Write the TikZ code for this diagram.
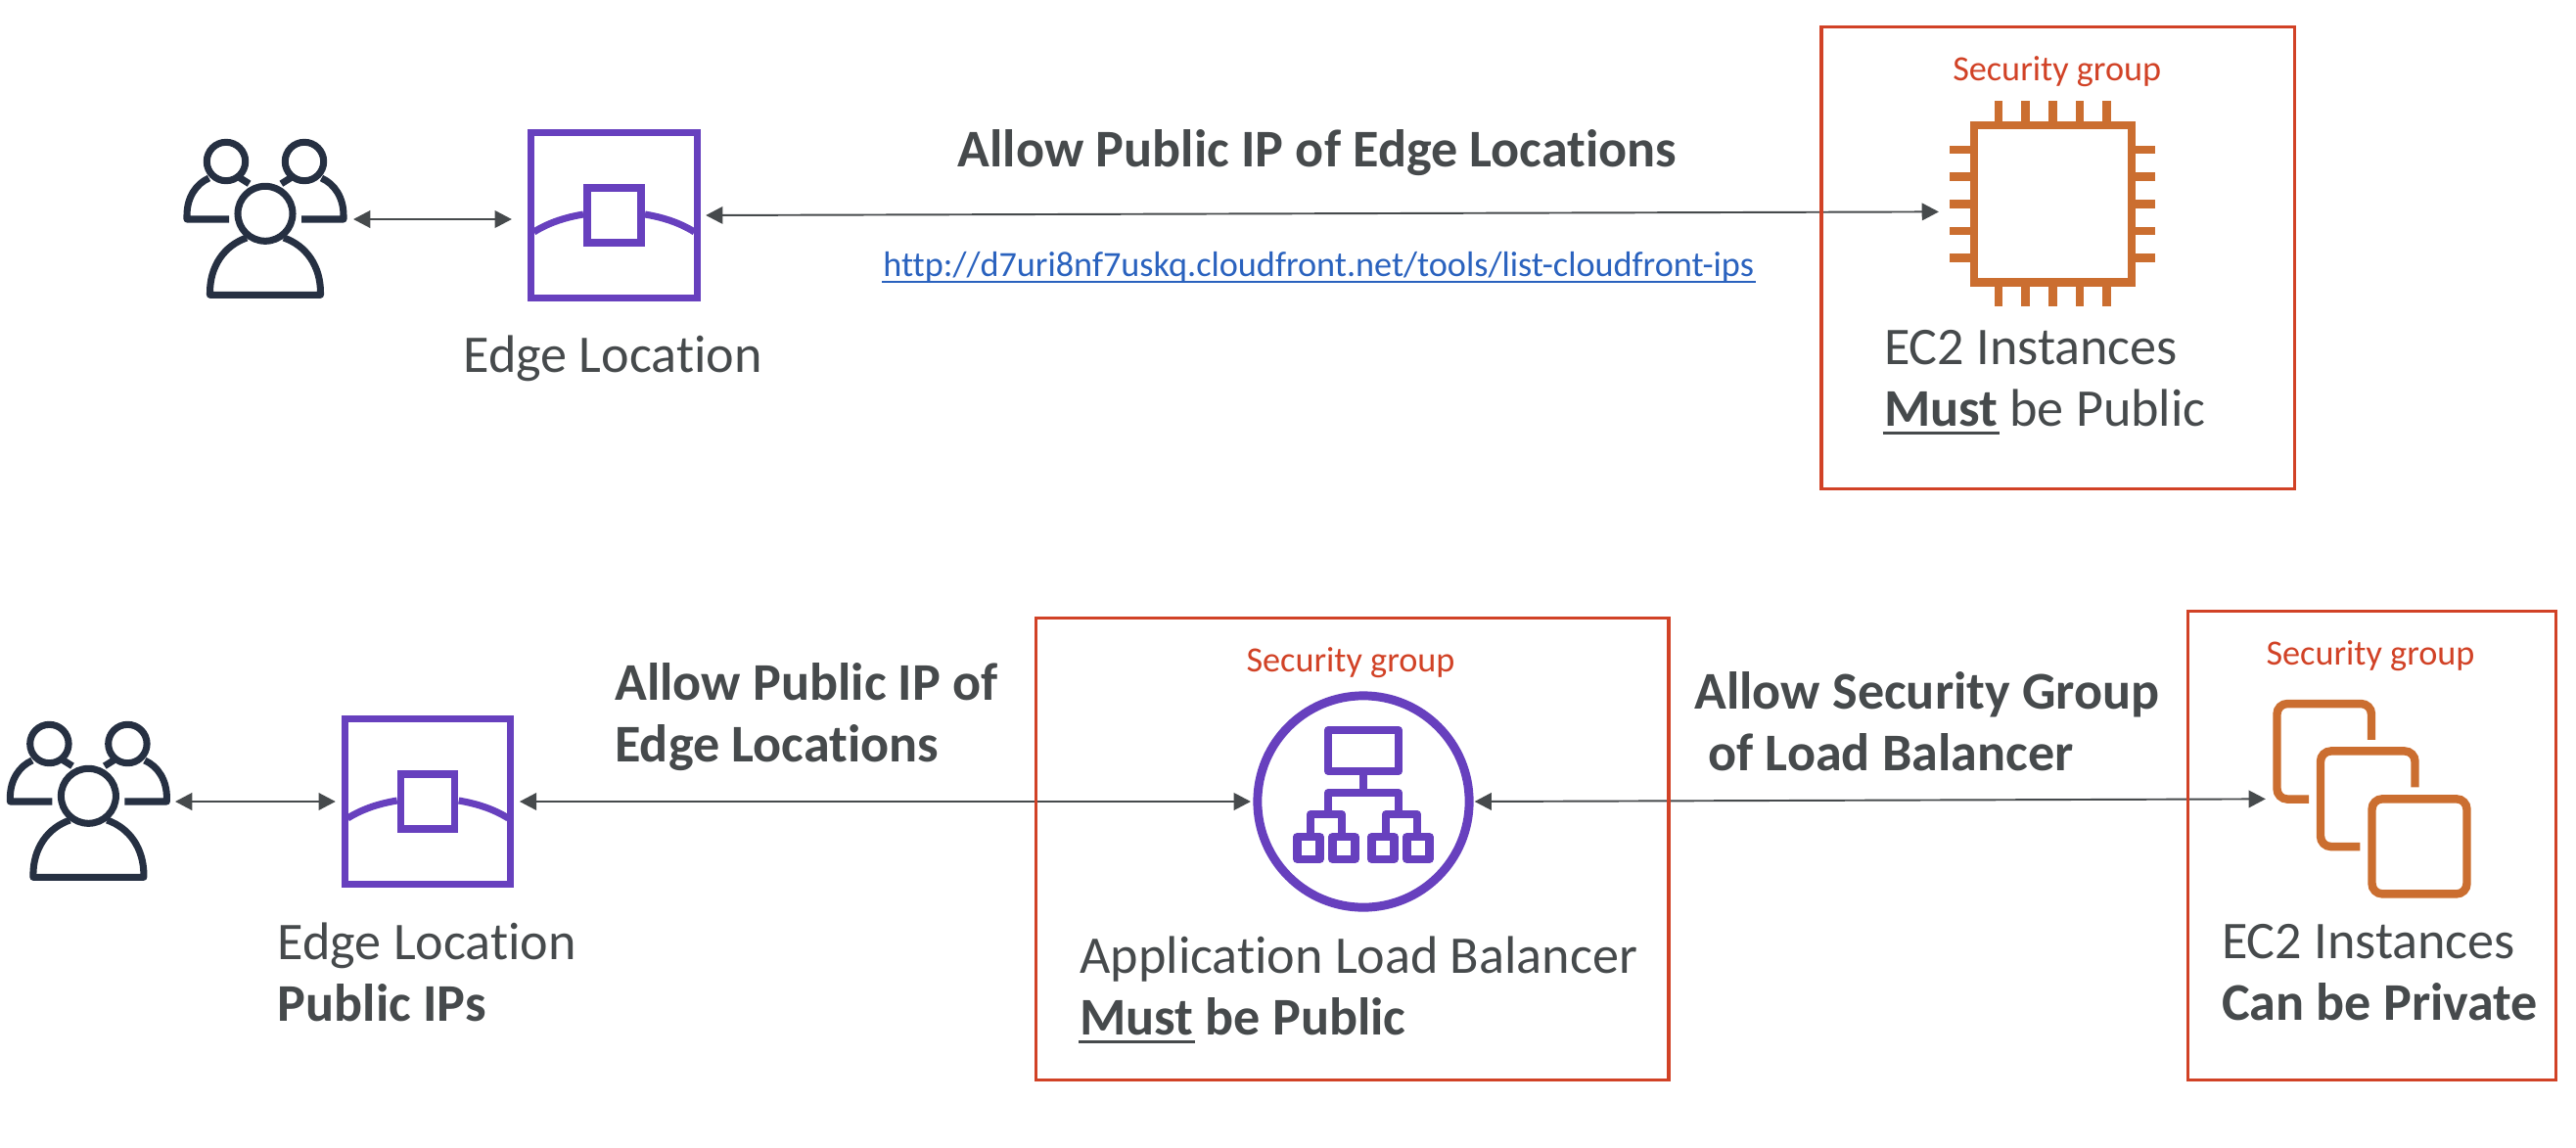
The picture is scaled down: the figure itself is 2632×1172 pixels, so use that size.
\documentclass[tikz,border=0pt]{standalone}
\usepackage{fontspec}
\setmainfont{Carlito}[Ligatures=NoCommon]
\usetikzlibrary{arrows.meta}
\definecolor{awspurple}{RGB}{103,64,190}
\definecolor{awsorange}{RGB}{203,110,48}
\definecolor{usernavy}{RGB}{38,48,66}
\definecolor{sgred}{RGB}{209,66,38}
\definecolor{textgray}{RGB}{70,74,76}
\definecolor{linkblue}{RGB}{42,98,190}
\newcommand{\ulword}[2][2.3pt]{\leavevmode\setbox0=\hbox{#2}\rlap{\kern-0.4pt\rule[-#1]{\dimexpr\wd0+0.8pt\relax}{0.8pt}}\box0\relax}
\tikzstyle{caption}=[anchor=base west, align=left, inner sep=0pt, outer sep=0pt, text=textgray, font=\fontsize{15.4}{18}\selectfont]
\tikzstyle{boldcaption}=[caption, font=\fontsize{15.4}{18}\selectfont\bfseries]
\tikzstyle{sglabel}=[anchor=base, inner sep=0pt, outer sep=0pt, text=sgred, font=\fontsize{10.3}{12}\selectfont]
\tikzstyle{sgbox}=[draw=sgred, line width=0.9pt, inner sep=0pt]
\tikzstyle{biarrow}=[<->, >={Triangle[length=4.9pt,width=5pt]}, draw=textgray, line width=0.55pt]
\tikzstyle{iconbox}=[inner sep=0pt, outer sep=0pt]
\tikzstyle{edgebox}=[draw=awspurple, line width=2pt, inner sep=0pt, minimum size=48.1pt]
\tikzset{
    usersicon/.pic={
        \begin{scope}[draw=usernavy, line width=2pt, line join=round]
            \draw (0,-5.7) circle (28);
            \draw (-19,19) .. controls (-42,27) and (-56.5,48) .. (-56.5,75) -- (-56.5,77.3) -- (56.5,77.3) -- (56.5,75) .. controls (56.5,48) and (42,27) .. (19,19);
            \foreach \s in {-1,1} {
                \draw (\s*40,-59) circle (19.7);
                \draw (\s*57.5,-42) .. controls (\s*71,-36) and (\s*80,-22) .. (\s*80,-4) -- (\s*80,0) -- (\s*37,0);
                \draw (\s*26,-42.3) -- (\s*16.4,-36.3);
            }
        \end{scope}
    },
    edgeicon/.pic={
        \begin{scope}[draw=awspurple, line width=2pt]
            \draw (-27.5,-28) rectangle (27.5,28);
            \foreach \s in {-1,1} {
                \draw (\s*82,17) .. controls (\s*66,7) and (\s*49,2) .. (\s*31.5,-1);
            }
        \end{scope}
    },
    chipicon/.pic={
        \begin{scope}[draw=awsorange, line width=2.45pt]
            \foreach \k in {-55.2,-27.6,0,27.6,55.2} {
                \draw (\k,-83) -- (\k,-105);
                \draw (\k,83) -- (\k,105);
                \draw (-83,\k) -- (-105,\k);
                \draw (83,\k) -- (105,\k);
            }
        \end{scope}
    },
    treeicon/.pic={
        \begin{scope}[draw=awspurple, line width=2.3pt, line join=round]
            \draw (-36,-73) rectangle (36,-31);
            \draw (0,-31) -- (0,-9);
            \draw (-36,13) -- (-36,-9) -- (36,-9) -- (36,13);
            \draw (-54,36) -- (-54,13) -- (-22,13) -- (-22,36);
            \draw (23,36) -- (23,13) -- (55,13) -- (55,36);
            \foreach \k in {-56,-20,20,56} {
                \draw (\k-11.5,36) rectangle (\k+11.5,59);
            }
        \end{scope}
    },
    instancesicon/.pic={
        \begin{scope}[draw=awsorange, line width=2.4pt, rounded corners=3pt]
            \draw (-0.5,-60.6) -- (-0.5,-97.3) -- (-97,-97.3) -- (-97,0.2) -- (-64.5,0.2);
            \draw (44,-12) -- (44,-48.9) -- (-52.5,-48.9) -- (-52.5,48.7) -- (-12.2,48.7);
            \draw (0,0) rectangle (97,97);
        \end{scope}
    }
}

\begin{document}
\begin{tikzpicture}[x=0.01cm, y=-0.01cm]
    \useasboundingbox (0,0) rectangle (2632,1172);

    % upper row
    \node[iconbox, minimum width=47.2pt, minimum height=46.4pt] (users1) at (271,224) {};
    \node[edgebox] (edge1) at (627.5,220) {};
    \node[draw=awsorange, line width=2.45pt, inner sep=0pt, minimum size=45.75pt] (chip1) at (2097.35,208.35) {};
    \pic at (users1) {usersicon};
    \pic at (edge1) {edgeicon};
    \pic at (chip1) {chipicon};

    \node[caption] (edgeText1) at (473.5,380.7) {Edge Location};
    \node[boldcaption] (allowText1) at (978.8,170.7) {Allow Public IP of Edge Locations};
    \node[caption, text=linkblue, font=\fontsize{10.3}{13}\selectfont] (linkText) at (902.4,282.7) {\ulword[1.9pt]{http://d7uri8nf7uskq.cloudfront.net/tools/list-cloudfront-ips}};
    \node[sglabel] (sgText1) at (2101.7,82.7) {Security group};
    \node[caption] (chipText) at (1925,435.7) {EC2 Instances\\\ulword{\textbf{Must}} be Public};

    % lower row
    \node[iconbox, minimum width=47.2pt, minimum height=46.4pt] (users2) at (90.4,819) {};
    \node[edgebox] (edge2) at (437.2,819) {};
    \node[draw=awspurple, line width=2.55pt, circle, inner sep=0pt, minimum size=61.5pt] (alb) at (1393,819) {};
    \node[iconbox, minimum size=57.6pt] (instances) at (2423.5,816.35) {};
    \pic at (users2) {usersicon};
    \pic at (edge2) {edgeicon};
    \pic at (alb) {treeicon};
    \pic at (instances) {instancesicon};

    \node[caption] (edgeText2) at (283.8,1043.3) {Edge Location\\\textbf{Public IPs}};
    \node[boldcaption] (allowText2) at (628.3,778.3) {Allow Public IP of\\Edge Locations};
    \node[sglabel] (sgText2) at (1380,686.7) {Security group};
    \node[caption] (albText) at (1103.4,1057.7) {Application Load Balancer\\\ulword{\textbf{Must}} \textbf{be Public}};
    \node[boldcaption] (allowText3) at (1731.4,787.3) {Allow Security Group\\\hspace*{4pt}of Load Balancer};
    \node[sglabel] (sgText3) at (2422,679) {Security group};
    \node[caption] (instText) at (2270,1042.7) {EC2 Instances\\\textbf{Can be Private}};

    % draw node connections
    \draw[biarrow, shorten <=2pt, shorten >=4.7pt] (users1.east) -- ([yshift=-1.14pt]edge1.west);
    \draw[biarrow, shorten <=1.6pt, shorten >=9pt] (edge1.east) -- ([yshift=-2.26pt]chip1.west);
    \draw[biarrow, shorten <=1.6pt, shorten >=1.8pt] (users2.east) -- (edge2.west);
    \draw[biarrow, shorten <=1.6pt, shorten >=0.7pt] (edge2.east) -- (alb.west);
    \draw[biarrow, shorten <=0.3pt, shorten >=2.1pt] (alb.east) -- (instances.west);

    % security groups go on top of the lines
    \node[sgbox, minimum width=137.4pt, minimum height=134pt] (sg1) at (2102.5,263.5) {};
    \node[sgbox, minimum width=183.9pt, minimum height=134pt] (sg2) at (1381.7,867.5) {};
    \node[sgbox, minimum width=106.7pt, minimum height=136pt] (sg3) at (2423.5,864) {};
\end{tikzpicture}
\end{document}
